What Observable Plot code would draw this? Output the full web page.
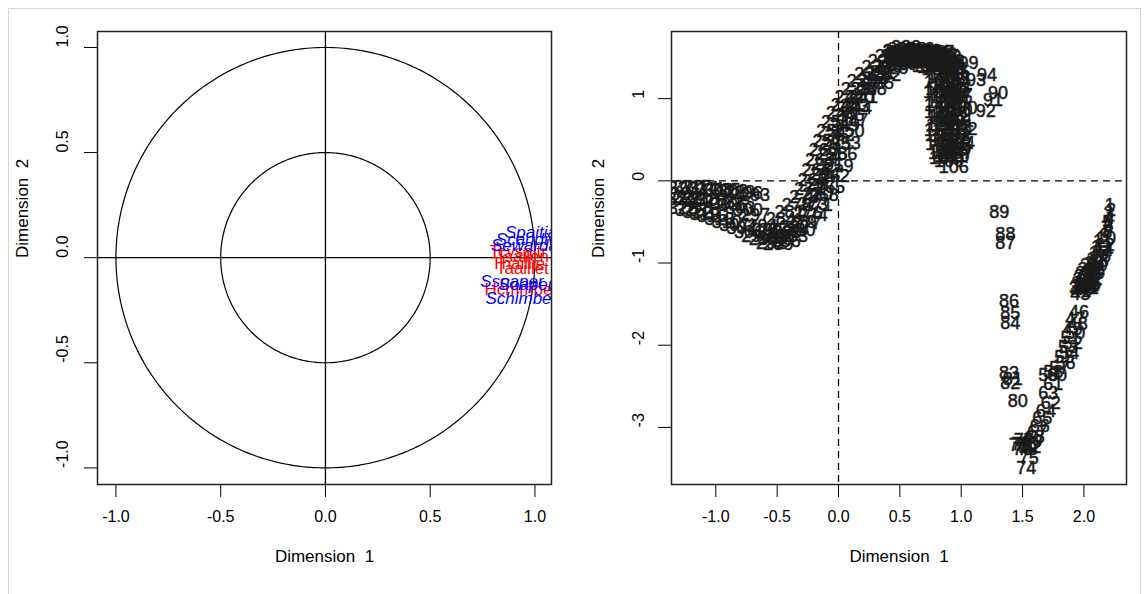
<!DOCTYPE html>
<html>
<head>
<meta charset="utf-8">
<script src="https://cdn.jsdelivr.net/npm/d3@7"></script>
<script src="https://cdn.jsdelivr.net/npm/@observablehq/plot@0.6"></script>
<style>
  html, body { margin: 0; padding: 0; background: #fff; }
  #fig { position: relative; width: 1148px; height: 594px; overflow: hidden;
         font-family: "Liberation Sans", Arial, Helvetica, sans-serif; }
  #border { position: absolute; left: 8px; top: 8px; width: 1133px; height: 640px;
            border: 1px solid #d6d6d6; box-sizing: border-box; }
  #fig svg { position: absolute; top: 0; }
</style>
</head>
<body>
<div id="fig"><div id="border"></div></div>
<script>
// ---- Correlation circle: variable coordinates on dimensions 1 and 2 ----
const varNames = ["Tcvsaltr", "Tsallen", "Thaillie", "Taaillet", "Hcmmbel",
                  "Spaitial", "Scandiva", "Sewarda", "Ssoaper", "Soapera", "Schimber"];
const varDim1  = [0.92, 0.94, 0.92, 0.94, 0.93, 0.99, 0.98, 0.95, 0.89, 0.98, 0.935];
const varDim2  = [0.03, 0.005, -0.03, -0.05, -0.15, 0.12, 0.085, 0.058, -0.115, -0.13, -0.195];
const varGroup = ["active", "active", "active", "active", "active",
                  "sup", "sup", "sup", "sup", "sup", "sup"];
const groupColor = {active: "#ff0000", sup: "#0000ff"};
const groupStyle = {active: "normal", sup: "italic"};
const circleRadii = [1, 0.5];

// ---- Individuals factor map (rows 1..N in order) ----
const indSpring = [ // rows 1-89
  [2.21,-0.30],[2.22,-0.36],[2.20,-0.40],[2.21,-0.45],[2.19,-0.50],[2.20,-0.55],[2.18,-0.58],[2.19,-0.63],[2.17,-0.66],[2.18,-0.70],
  [2.15,-0.74],[2.17,-0.78],[2.14,-0.81],[2.16,-0.85],[2.12,-0.88],[2.14,-0.92],[2.10,-0.95],[2.12,-0.98],[2.08,-1.00],[2.11,-1.03],
  [2.05,-1.03],[2.09,-1.07],[2.03,-1.08],[2.07,-1.10],[2.01,-1.12],[2.06,-1.14],[2.00,-1.16],[2.04,-1.18],[2.09,-1.12],[1.99,-1.20],
  [2.03,-1.22],[2.07,-1.20],[1.98,-1.24],[2.02,-1.26],[2.06,-1.25],[1.97,-1.28],[2.01,-1.29],[2.05,-1.28],[1.96,-1.31],[2.00,-1.32],
  [2.04,-1.31],[1.98,-1.34],[1.97,-1.38],[2.03,-1.30],[2.00,-1.27],
  [1.96,-1.60],[1.93,-1.68],[1.95,-1.74],[1.91,-1.80],[1.93,-1.86],[1.89,-1.92],[1.91,-1.98],[1.87,-2.03],[1.88,-2.10],[1.84,-2.15],
  [1.85,-2.22],[1.80,-2.28],[1.75,-2.33],[1.71,-2.36],[1.78,-2.36],
  [1.75,-2.48],[1.73,-2.71],[1.71,-2.59],[1.69,-2.80],[1.66,-2.89],[1.64,-2.98],[1.62,-3.06],[1.60,-3.12],[1.58,-3.17],[1.55,-3.20],
  [1.52,-3.22],[1.57,-3.24],[1.54,-3.27],
  [1.53,-3.50],[1.55,-3.37],[1.49,-3.20],[1.51,-3.16],[1.47,-3.22],[1.50,-3.26],
  [1.46,-2.68],[1.42,-2.42],[1.40,-2.46],[1.39,-2.34],[1.40,-1.73],[1.40,-1.61],[1.39,-1.47],[1.36,-0.76],[1.36,-0.65],[1.31,-0.38]
];
const indJump = [ // rows 90-108
  [1.30,1.07],[1.26,0.98],[1.20,0.85],[1.12,1.22],[1.21,1.28],[0.99,1.24],[0.95,1.10],[1.01,1.04],[0.95,1.44],[1.06,1.43],
  [1.01,0.88],[0.98,0.73],[1.01,0.63],[0.95,0.55],[0.99,0.46],[0.93,0.37],[0.94,0.16],[0.97,0.33],[0.90,0.30]
];
const indHook = [ // rows 109-162
  [0.90,0.24],[0.95,0.30],[0.84,0.34],[0.92,0.40],[0.97,0.45],[0.86,0.49],[0.82,0.55],[0.93,0.56],[0.88,0.62],[0.97,0.64],
  [0.83,0.68],[0.91,0.72],[0.86,0.78],[0.96,0.80],[0.82,0.84],[0.90,0.88],[0.95,0.94],[0.84,0.96],[0.88,1.02],[0.81,1.08],
  [0.94,1.08],[0.87,1.14],[0.97,1.18],[0.82,1.20],[0.91,1.24],[0.86,1.30],[0.95,1.32],[0.80,1.36],[0.90,1.40],[0.85,1.46],
  [0.92,1.36],[0.84,1.26],[0.96,1.25],[0.88,1.18],[0.83,1.12],[0.93,1.12],[0.97,1.02],[0.86,1.04],[0.82,0.92],[0.92,0.96],
  [0.88,0.84],[0.97,0.86],[0.84,0.76],[0.93,0.76],[0.88,0.68],[0.82,0.62],[0.95,0.60],[0.87,0.54],[0.92,0.48],[0.83,0.44],
  [0.96,0.38],[0.88,0.36],[0.92,0.30],[0.86,0.28]
];
const indCrest = [ // rows 163-220
  [0.88,1.50],[0.82,1.44],[0.78,1.50],[0.84,1.54],[0.74,1.44],[0.70,1.52],[0.76,1.56],[0.66,1.48],[0.80,1.40],[0.72,1.58],
  [0.62,1.52],[0.68,1.56],[0.58,1.48],[0.64,1.58],[0.54,1.52],[0.76,1.38],[0.60,1.56],[0.50,1.48],[0.86,1.44],[0.56,1.58],
  [0.70,1.46],[0.46,1.52],[0.52,1.56],[0.90,1.46],[0.64,1.46],[0.78,1.46],[0.48,1.58],[0.58,1.54],[0.74,1.52],[0.68,1.50],
  [0.82,1.50],[0.62,1.48],[0.54,1.46],[0.72,1.40],[0.86,1.52],[0.66,1.54],[0.60,1.50],[0.50,1.54],[0.80,1.56],[0.56,1.50],
  [0.76,1.44],[0.70,1.58],[0.44,1.46],[0.84,1.40],[0.64,1.52],[0.52,1.50],[0.78,1.54],[0.60,1.60],[0.74,1.48],[0.68,1.44],
  [0.88,1.42],[0.56,1.46],[0.48,1.50],[0.66,1.60],[0.82,1.56],[0.62,1.56],[0.52,1.60],
  [0.55,1.62]
];
const indDescent = [ // rows 221-328
  [0.48,1.58],[0.52,1.52],[0.58,1.46],[0.42,1.52],[0.46,1.46],[0.52,1.42],[0.36,1.45],[0.40,1.39],[0.45,1.37],
  [0.31,1.38],[0.34,1.31],[0.39,1.28],[0.25,1.30],[0.28,1.22],[0.33,1.19],[0.19,1.21],[0.22,1.12],[0.27,1.11],
  [0.14,1.12],[0.17,1.02],[0.20,1.02],[0.09,1.02],[0.13,0.91],[0.15,0.88],[0.06,0.92],[0.09,0.80],[0.12,0.74],
  [0.02,0.82],[0.05,0.68],[0.09,0.60],[-0.02,0.71],[0.01,0.56],[0.06,0.46],[-0.06,0.60],[-0.02,0.44],[0.03,0.32],
  [-0.09,0.48],[-0.05,0.32],[0.00,0.18],[-0.12,0.37],[-0.08,0.20],[-0.03,0.05],[-0.15,0.25],[-0.11,0.08],[-0.07,-0.08],
  [-0.18,0.13],[-0.14,-0.04],[-0.12,-0.18],[-0.21,0.01],[-0.17,-0.16],[-0.17,-0.30],[-0.24,-0.10],[-0.21,-0.28],[-0.21,-0.42],
  [-0.28,-0.20],[-0.25,-0.40],[-0.26,-0.52],[-0.34,-0.30],[-0.30,-0.50],[-0.31,-0.60],[-0.40,-0.38],[-0.36,-0.57],[-0.37,-0.68],
  [-0.47,-0.47],[-0.42,-0.62],[-0.43,-0.74],[-0.53,-0.60],[-0.48,-0.67],[-0.49,-0.77],[-0.58,-0.60],[-0.54,-0.70],[-0.55,-0.76],
  [-0.68,-0.18],[-0.62,-0.55],[-0.61,-0.71],[-0.74,-0.15],[-0.68,-0.42],[-0.67,-0.67],[-0.80,-0.14],[-0.74,-0.36],[-0.73,-0.62],
  [-0.86,-0.13],[-0.80,-0.33],[-0.79,-0.58],[-0.92,-0.12],[-0.86,-0.30],[-0.85,-0.54],[-0.98,-0.11],[-0.92,-0.28],[-0.91,-0.50],
  [-1.04,-0.10],[-0.98,-0.26],[-0.97,-0.47],[-1.10,-0.09],[-1.04,-0.24],[-1.03,-0.43],[-1.16,-0.08],[-1.10,-0.22],[-1.09,-0.41],
  [-1.22,-0.08],[-1.16,-0.21],[-1.15,-0.38],[-1.27,-0.09],[-1.22,-0.20],[-1.21,-0.36],[-1.25,-0.16],[-1.28,-0.22],[-1.27,-0.33]
];

// Axis ticks and titles
const corTicks = [-1, -0.5, 0, 0.5, 1];
const indXTicks = [-1, -0.5, 0, 0.5, 1, 1.5, 2];
const indYTicks = [-3, -2, -1, 0, 1];
const axisTitleX = "Dimension  1";
const axisTitleY = "Dimension  2";

const FONT = '"Liberation Sans", Arial, Helvetica, sans-serif';
const FS_TICK = 16;   // tick labels
const FS_TITLE = 17;  // axis titles
const FS_VAR = 17;    // variable names
const FS_IND = 18;    // individual labels

const variables = varNames.map((name, i) => ({
  name, dim1: varDim1[i], dim2: varDim2[i], group: varGroup[i]
}));
// red (active) labels first, supplementary ones on top
const varOrder = [...variables.filter(d => d.group === "active"), ...variables.filter(d => d.group === "sup")];

const circles = circleRadii.flatMap(r =>
  d3.range(0, 361, 1).map(a => ({r, x: r * Math.cos(a * Math.PI / 180), y: r * Math.sin(a * Math.PI / 180)})));

const individuals = [...indSpring, ...indJump, ...indHook, ...indCrest, ...indDescent]
  .map(([d1, d2], i) => ({dim1: d1, dim2: d2, label: String(i + 1)}));

function axesMarks(xTicks, yTicks, fmtX, fmtY, yLabelDx, yTitleDx) {
  return [
    Plot.axisX({ticks: xTicks, tickSize: 13, tickPadding: 13, tickFormat: fmtX,
                fontSize: FS_TICK, label: null, stroke: "#000", strokeWidth: 1}),
    Plot.axisY({ticks: yTicks, tickSize: 13, tickFormat: () => "", label: null,
                stroke: "#000", strokeWidth: 1}),
    Plot.text(yTicks, {y: d => d, text: fmtY, frameAnchor: "left", dx: yLabelDx,
                       rotate: -90, fontSize: FS_TICK, fill: "#000"}),
    Plot.text([axisTitleX], {frameAnchor: "bottom", dy: 77, fontSize: FS_TITLE, fill: "#000"}),
    Plot.text([axisTitleY], {frameAnchor: "left", dx: yTitleDx, rotate: -90, fontSize: FS_TITLE, fill: "#000"})
  ];
}

const common = {
  width: 574, height: 594,
  marginLeft: 97, marginTop: 31, marginBottom: 110,
  style: {fontFamily: FONT, fontSize: FS_TICK + "px", color: "#000", background: "transparent", overflow: "visible"}
};

const corPlot = Plot.plot({
  ...common,
  marginRight: 23,
  x: {domain: [-1.088, 1.079]},
  y: {domain: [-1.079, 1.076]},
  marks: [
    Plot.line(circles, {x: "x", y: "y", z: "r", stroke: "#000", strokeWidth: 1.2}),
    Plot.ruleY([0], {stroke: "#000", strokeWidth: 1.3}),
    Plot.ruleX([0], {stroke: "#000", strokeWidth: 1.3}),
    ...varOrder.map(d => Plot.text([d], {
      x: "dim1", y: "dim2", text: "name", fill: groupColor[d.group],
      fontStyle: groupStyle[d.group], fontSize: FS_VAR, clip: true
    })),
    ...axesMarks(corTicks, corTicks, d => d.toFixed(1), d => d.toFixed(1), -35, -75),
    Plot.frame({stroke: "#222", strokeWidth: 1.5})
  ]
});

const indPlot = Plot.plot({
  ...common,
  marginRight: 22,
  x: {domain: [-1.361, 2.347]},
  y: {domain: [-3.695, 1.817]},
  marks: [
    Plot.ruleY([0], {stroke: "#000", strokeWidth: 1.3, strokeDasharray: "7,5"}),
    Plot.ruleX([0], {stroke: "#000", strokeWidth: 1.3, strokeDasharray: "7,5"}),
    Plot.text(individuals, {x: "dim1", y: "dim2", text: "label", fill: "#1a1a1a",
                            stroke: "#1a1a1a", strokeWidth: 0.5,
                            fontSize: FS_IND, clip: true}),
    ...axesMarks(indXTicks, indYTicks, d => d.toFixed(1), d => String(d), -33, -73),
    Plot.frame({stroke: "#222", strokeWidth: 1.5})
  ]
});

const fig = document.getElementById("fig");
corPlot.style.left = "0px";
indPlot.style.left = "574px";
fig.appendChild(corPlot);
fig.appendChild(indPlot);
</script>
</body>
</html>
